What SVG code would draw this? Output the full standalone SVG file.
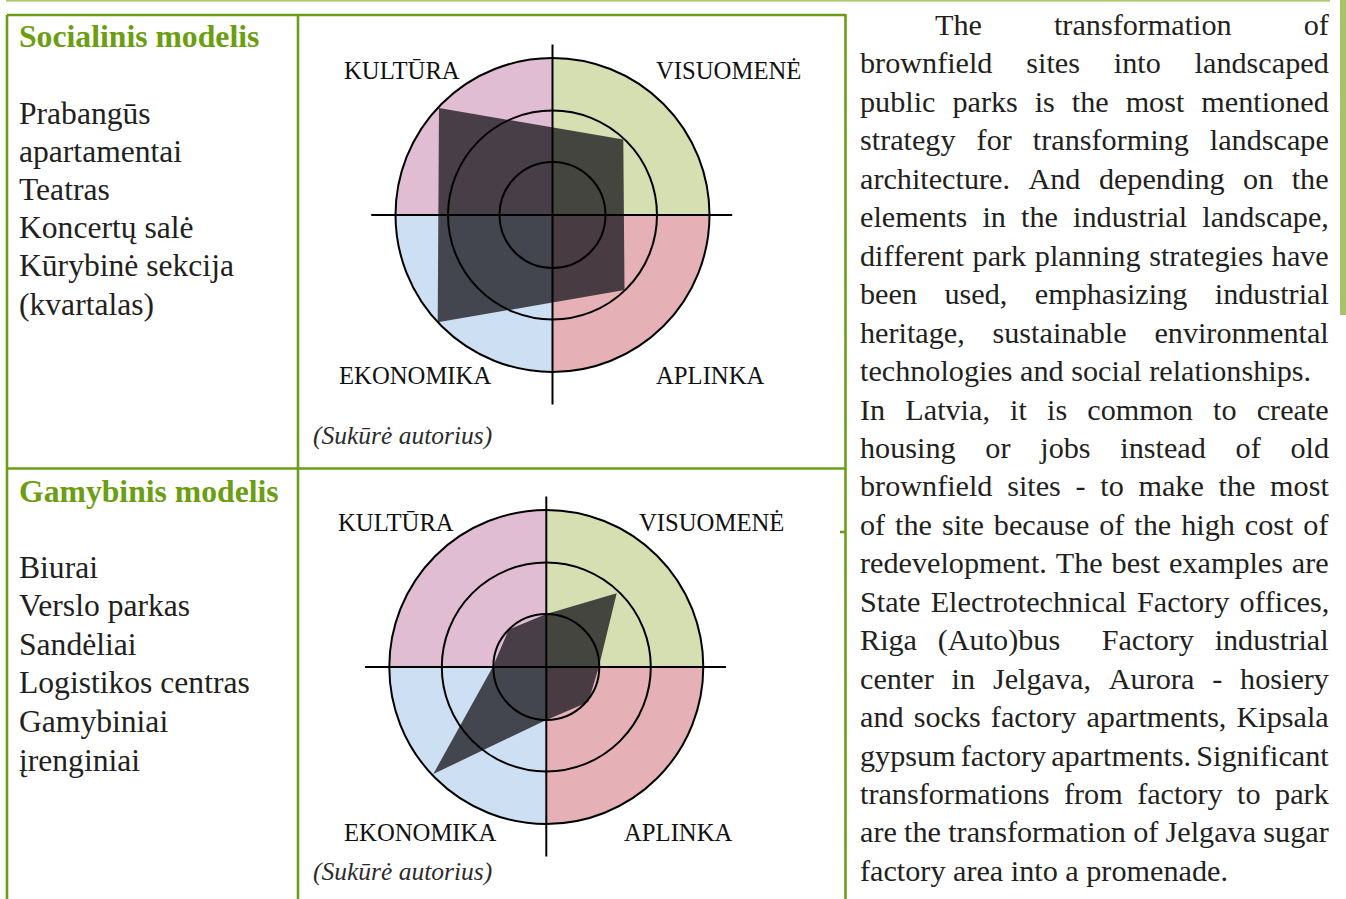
<svg xmlns="http://www.w3.org/2000/svg" xmlns:xlink="http://www.w3.org/1999/xlink" width="1346" height="899" viewBox="0 0 1346 899">
<style>
  .serif { font-family: "Liberation Serif", "Times New Roman", serif; font-kerning: none; }
  .head { font-family: "Liberation Serif", "Times New Roman", serif; font-weight: bold; font-size: 31.7px; fill: #6b9e10; }
  .list { font-family: "Liberation Serif", "Times New Roman", serif; font-size: 31.6px; fill: #231f20; }
  .axis-label { font-family: "Liberation Serif", "Times New Roman", serif; font-size: 24.7px; fill: #111; }
  .caption { font-family: "Liberation Serif", "Times New Roman", serif; font-style: italic; font-size: 25.5px; fill: #2b2b2b; }
  .para { font-family: "Liberation Serif", "Times New Roman", serif; font-size: 30.2px; fill: #231f20; font-kerning: none; }
  .border { stroke: #6b9e18; stroke-width: 2.6; fill: none; }
  .ring { fill: none; stroke: #000; stroke-width: 2; }
  .ax { stroke: #000; stroke-width: 2; }
  .shape { fill: #1c1a20; fill-opacity: 0.78; }
</style>
<defs>
  <g id="quads">
    <path d="M0 0 L-157 0 A157 157 0 0 1 0 -157 Z" fill="#e1bdd3"/>
    <path d="M0 0 L0 -157 A157 157 0 0 1 157 0 Z" fill="#d6dfb1"/>
    <path d="M0 0 L157 0 A157 157 0 0 1 0 157 Z" fill="#e5b1b7"/>
    <path d="M0 0 L0 157 A157 157 0 0 1 -157 0 Z" fill="#cddff3"/>
  </g>
  <g id="rings">
    <circle class="ring" r="157"/>
    <circle class="ring" r="104.5"/>
    <circle class="ring" r="53"/>
    <line class="ax" x1="0" y1="-170.5" x2="0" y2="189.5"/>
    <line class="ax" x1="-181.3" y1="0" x2="179.7" y2="0"/>
  </g>
</defs>

<!-- page decorations -->
<g id="page-marks">
  <rect x="6" y="0" width="1324" height="1.6" fill="#a9c96c"/>
  <rect x="1340" y="0" width="6" height="315" fill="#a6c46a"/>
</g>

<!-- table frame -->
<g id="table-frame">
  <line class="border" x1="7" y1="15" x2="845.5" y2="15"/>
  <line class="border" x1="7" y1="15" x2="7" y2="899"/>
  <line class="border" x1="298" y1="15" x2="298" y2="899"/>
  <line class="border" x1="845.5" y1="14" x2="845.5" y2="899"/>
  <line class="border" x1="7" y1="468.5" x2="845.5" y2="468.5"/>
  <line class="border" x1="840" y1="532" x2="846" y2="532"/>
</g>

<!-- social model text -->
<g id="social-model">
  <text class="head" x="19" y="47">Socialinis modelis</text>
  <text class="list" x="19" y="123.5">Prabangūs</text>
  <text class="list" x="19" y="161.7">apartamentai</text>
  <text class="list" x="19" y="199.9">Teatras</text>
  <text class="list" x="19" y="238.1">Koncertų salė</text>
  <text class="list" x="19" y="276.3">Kūrybinė sekcija</text>
  <text class="list" x="19" y="314.5">(kvartalas)</text>
</g>

<!-- social radar chart -->
<g id="chart-social" transform="translate(552.5,215)">
  <use xlink:href="#quads"/>
  <polygon class="shape" points="-113.5,-107 70.8,-75.5 72,75 -114.8,107.3"/>
  <use xlink:href="#rings"/>
</g>
<g id="chart-social-labels">
  <text class="axis-label" x="344" y="78.5">KULTŪRA</text>
  <text class="axis-label" x="656" y="78.5">VISUOMENĖ</text>
  <text class="axis-label" x="339" y="383.5">EKONOMIKA</text>
  <text class="axis-label" x="656" y="383.5">APLINKA</text>
  <text class="caption" x="313" y="444">(Sukūrė autorius)</text>
</g>

<!-- production model text -->
<g id="production-model">
  <text class="head" x="19" y="502">Gamybinis modelis</text>
  <text class="list" x="19" y="577.5">Biurai</text>
  <text class="list" x="19" y="616.1">Verslo parkas</text>
  <text class="list" x="19" y="654.7">Sandėliai</text>
  <text class="list" x="19" y="693.3">Logistikos centras</text>
  <text class="list" x="19" y="731.9">Gamybiniai</text>
  <text class="list" x="19" y="770.5">įrenginiai</text>
</g>

<!-- production radar chart -->
<g id="chart-production" transform="translate(546.3,667)">
  <use xlink:href="#quads"/>
  <polygon class="shape" points="0,-53 70.4,-73.7 52.5,0 42,35 0,53 -113,107 -53.6,0 -37.5,-37.5"/>
  <use xlink:href="#rings"/>
</g>
<g id="chart-production-labels">
  <text class="axis-label" x="338" y="531">KULTŪRA</text>
  <text class="axis-label" x="639" y="531">VISUOMENĖ</text>
  <text class="axis-label" x="344" y="840.5">EKONOMIKA</text>
  <text class="axis-label" x="624" y="840.5">APLINKA</text>
  <text class="caption" x="313" y="880">(Sukūrė autorius)</text>
</g>

<!-- body paragraph -->
<g id="paragraph">
  <text class="para" x="935" y="35" word-spacing="64.5">The transformation of</text>
  <text class="para" x="860" y="73.45" word-spacing="26.3">brownfield sites into landscaped</text>
  <text class="para" x="860" y="111.9" word-spacing="9.4">public parks is the most mentioned</text>
  <text class="para" x="860" y="150.35" word-spacing="13.5">strategy for transforming landscape</text>
  <text class="para" x="860" y="188.8" word-spacing="10.9">architecture. And depending on the</text>
  <text class="para" x="860" y="227.25" word-spacing="7.6">elements in the industrial landscape,</text>
  <text class="para" x="860" y="265.7" word-spacing="1.1">different park planning strategies have</text>
  <text class="para" x="860" y="304.15" word-spacing="19.9">been used, emphasizing industrial</text>
  <text class="para" x="860" y="342.6" word-spacing="20.2">heritage, sustainable environmental</text>
  <text class="para" x="860" y="381.05">technologies and social relationships.</text>
  <text class="para" x="860" y="419.5" word-spacing="12.6">In Latvia, it is common to create</text>
  <text class="para" x="860" y="457.95" word-spacing="22.2">housing or jobs instead of old</text>
  <text class="para" x="860" y="496.4" word-spacing="7.15">brownfield sites - to make the most</text>
  <text class="para" x="860" y="534.85" word-spacing="2.4">of the site because of the high cost of</text>
  <text class="para" x="860" y="573.3" word-spacing="1.3">redevelopment. The best examples are</text>
  <text class="para" x="860" y="611.75" word-spacing="2.75">State Electrotechnical Factory offices,</text>
  <text class="para" x="860" y="650.2" word-spacing="13.2" xml:space="preserve">Riga (Auto)bus  Factory industrial</text>
  <text class="para" x="860" y="688.65" word-spacing="10.3">center in Jelgava, Aurora - hosiery</text>
  <text class="para" x="860" y="727.1" word-spacing="2.55">and socks factory apartments, Kipsala</text>
  <text class="para" x="860" y="765.55" word-spacing="-2.5">gypsum factory apartments. Significant</text>
  <text class="para" x="860" y="804" word-spacing="6.95">transformations from factory to park</text>
  <text class="para" x="860" y="842.45" word-spacing="-0.3">are the transformation of Jelgava sugar</text>
  <text class="para" x="860" y="880.9">factory area into a promenade.</text>
</g>
</svg>
